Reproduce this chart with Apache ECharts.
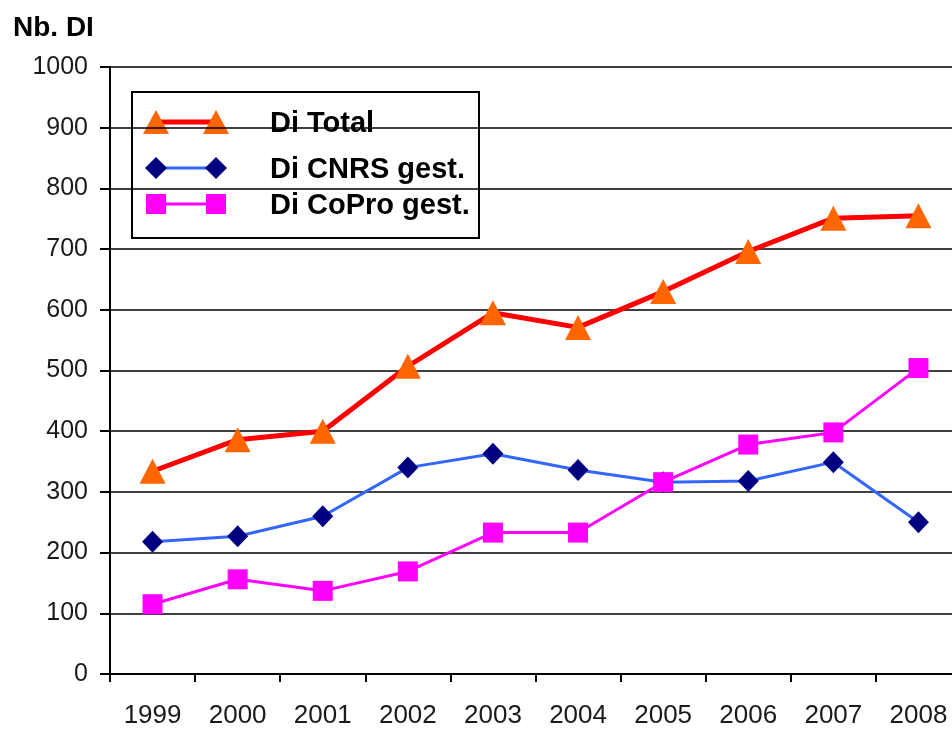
<!DOCTYPE html>
<html>
<head>
<meta charset="utf-8">
<script src="https://cdn.jsdelivr.net/npm/echarts@6/dist/echarts.min.js"></script>
<style>
  html, body { margin: 0; padding: 0; background: #fff; overflow: hidden; }
  #chart { width: 961px; height: 729px; }
</style>
</head>
<body>
<div id="chart"></div>
<script>
// Yearly counts of DI, 1999-2008
const years = ['1999', '2000', '2001', '2002', '2003', '2004', '2005', '2006', '2007', '2008'];
const diTotal = [334, 386, 400, 507, 595, 571, 630, 696, 751, 755];
const diCnrs  = [218, 227, 260, 340, 363, 336, 316, 318, 349, 250];
const diCopro = [115, 156, 137, 169, 233, 233, 316, 378, 398, 504];
const seriesNames = ['Di Total', 'Di CNRS gest.', 'Di CoPro gest.'];
const yTicks = { min: 0, max: 1000, step: 100 };

const FONT = '"Liberation Sans", Arial, sans-serif';

const chart = echarts.init(document.getElementById('chart'), null, { renderer: 'canvas' });

// Legend box drawn as graphic elements (line with a marker at each end)
function legendRow(y, lineColor, lineWidth, markerColor, shape, text) {
  const items = [{
    type: 'line',
    shape: { x1: 158, y1: y, x2: 216, y2: y },
    style: { stroke: lineColor, lineWidth: lineWidth }
  }];
  [156, 216].forEach(function (cx) {
    if (shape === 'triangle') {
      items.push({ type: 'polygon', shape: { points: [[cx, y - 12], [cx - 13, y + 12], [cx + 13, y + 12]] }, style: { fill: markerColor } });
    } else if (shape === 'diamond') {
      items.push({ type: 'polygon', shape: { points: [[cx, y - 11], [cx + 11, y], [cx, y + 11], [cx - 11, y]] }, style: { fill: markerColor } });
    } else {
      items.push({ type: 'rect', shape: { x: cx - 10, y: y - 10, width: 20, height: 20 }, style: { fill: markerColor } });
    }
  });
  items.push({
    type: 'text', x: 270, y: y + 2,
    style: { text: text, font: 'bold 29px ' + FONT, fill: '#000', textVerticalAlign: 'middle', verticalAlign: 'middle' }
  });
  return items;
}

const option = {
  animation: false,
  backgroundColor: '#fff',
  title: {
    text: 'Nb. DI', left: 8, top: 9,
    textStyle: { fontFamily: FONT, fontWeight: 'bold', fontSize: 28, color: '#000' }
  },
  grid: { left: 110, top: 67, right: 0, bottom: 54 },
  xAxis: {
    type: 'category',
    data: years,
    boundaryGap: true,
    axisLine: { lineStyle: { color: '#000', width: 2 } },
    axisTick: { show: true, length: 8, lineStyle: { color: '#000', width: 2 } },
    axisLabel: { fontFamily: FONT, fontSize: 26, color: '#1a1a1a', margin: 29 },
    splitLine: { show: false }
  },
  yAxis: {
    type: 'value',
    min: yTicks.min, max: yTicks.max, interval: yTicks.step,
    axisLine: { show: true, lineStyle: { color: '#000', width: 2 } },
    axisTick: { show: true, inside: false, length: 10, lineStyle: { color: '#000', width: 2 } },
    axisLabel: { fontFamily: FONT, fontSize: 25, color: '#1a1a1a', margin: 22, formatter: function (v) { return String(v); } },
    splitLine: { show: true, lineStyle: { color: '#000', width: 1.6 } }
  },
  series: [
    {
      name: seriesNames[1], type: 'line', data: diCnrs,
      symbol: 'diamond', symbolSize: [21, 22],
      lineStyle: { color: '#3366ff', width: 3 },
      itemStyle: { color: '#000080' },
      z: 3
    },
    {
      name: seriesNames[2], type: 'line', data: diCopro,
      symbol: 'rect', symbolSize: 20,
      lineStyle: { color: '#ff00ff', width: 3 },
      itemStyle: { color: '#ff00ff' },
      z: 4
    },
    {
      name: seriesNames[0], type: 'line', data: diTotal,
      symbol: 'triangle', symbolSize: [26, 25],
      lineStyle: { color: '#ff0000', width: 5 },
      itemStyle: { color: '#ff6600' },
      z: 5
    }
  ],
  graphic: [
    {
      type: 'group',
      z: 100,
      children: [
        { type: 'rect', shape: { x: 132, y: 92, width: 347, height: 146 }, style: { fill: '#fff', stroke: '#000', lineWidth: 2 } }
      ].concat(
        legendRow(122, '#ff0000', 5, '#ff6600', 'triangle', seriesNames[0]),
        legendRow(168, '#3366ff', 3, '#000080', 'diamond', seriesNames[1]),
        legendRow(204, '#ff00ff', 3, '#ff00ff', 'rect', seriesNames[2])
      )
    }
  ]
};

chart.setOption(option);
</script>
</body>
</html>
